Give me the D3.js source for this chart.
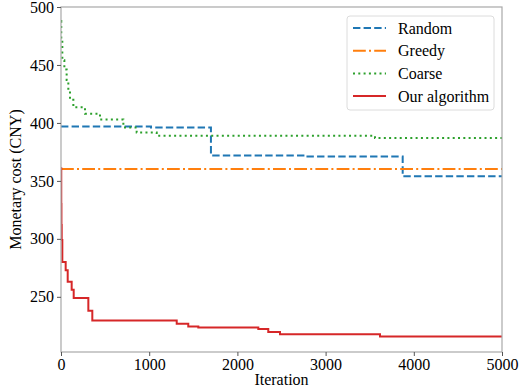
<!DOCTYPE html>
<html><head><meta charset="utf-8">
<script src="https://cdn.jsdelivr.net/npm/d3@7"></script>
<style>
html,body{margin:0;padding:0;background:#fff;}
</style></head>
<body><svg id="chart" width="526" height="390"></svg>
<script>
// Step data: [iteration, cost] (value holds until next point)
const randomSteps = [[0,397],[1020,396],[1700,372],[2766,371],[3874,354],[5000,354]];
const greedySteps = [[0,360.3],[5000,360.3]];
const coarseSteps = [[0,488],[3,470],[15,454],[38,446],[64,437],[83,428],[102,420],[140,413.5],[272,408],[442,403],[707,398],[726,396],[858,391.7],[1085,389],[3560,387],[5000,387]];
const oursSteps = [[0,361],[3,330],[5,312],[8,299],[15,280],[53,273],[76,263],[121,256],[144,249],[310,238],[355,229.5],[1312,226.7],[1443,224.4],[1557,223.5],[2237,222.2],[2350,219.6],[2483,217.8],[3617,215.8],[5000,215.8]];
const seriesNames = ["Random","Greedy","Coarse","Our algorithm"];
const seriesColors = ["#1f77b4","#ff7f0e","#2ca02c","#d62728"];
const seriesDash = ["7.4,3.2","12.8,3.2,2,3.2","2,3.3",null];
const xTicks = [0,1000,2000,3000,4000,5000];
const yTicks = [250,300,350,400,450,500];

const FONT = "Liberation Serif";
const svg = d3.select("#chart");
const L=61, R=502, T=7, B=352;
const x = d3.scaleLinear().domain([0,5000]).range([L,R]);
const y = d3.scaleLinear().domain([202.4,500]).range([B,T]);

const allSeries = [randomSteps, greedySteps, coarseSteps, oursSteps];
const line = d3.line().x(d=>x(d[0])).y(d=>y(d[1])).curve(d3.curveStepAfter);

const g = svg.append("g");
g.append("defs").append("clipPath").attr("id","clip").append("rect")
  .attr("x",L).attr("y",T).attr("width",R-L).attr("height",B-T);
const plot = g.append("g").attr("clip-path","url(#clip)");
allSeries.forEach((s,i)=>{
  plot.append("path").datum(s).attr("d",line)
    .attr("fill","none").attr("stroke",seriesColors[i]).attr("stroke-width",2)
    .attr("stroke-dasharray",seriesDash[i]);
});

// frame
svg.append("rect").attr("x",L).attr("y",T).attr("width",R-L).attr("height",B-T)
  .attr("fill","none").attr("stroke","#a8a8a8").attr("stroke-width",1.2);

const xAxis = svg.append("g").attr("transform",`translate(0,${B})`)
  .call(d3.axisBottom(x).tickValues(xTicks).tickFormat(d3.format("d")).tickSize(4).tickPadding(3));
const yAxis = svg.append("g").attr("transform",`translate(${L},0)`)
  .call(d3.axisLeft(y).tickValues(yTicks).tickFormat(d3.format("d")).tickSize(4).tickPadding(3));
[xAxis,yAxis].forEach(a=>{
  a.attr("font-family",FONT).attr("font-size",16);
  a.select(".domain").remove();
  a.selectAll("line").attr("stroke","#555");
  a.selectAll("text").style("font-family",FONT).style("font-size","16px").attr("fill","#000");
});

svg.append("text").attr("x",(L+R)/2).attr("y",385).attr("text-anchor","middle")
  .style("font-family",FONT).style("font-size","16px").text("Iteration");
svg.append("text").attr("transform",`translate(21,${(T+B)/2}) rotate(-90)`).attr("text-anchor","middle")
  .style("font-family",FONT).style("font-size","16px").text("Monetary cost (CNY)");

// legend
const lg = svg.append("g");
lg.append("rect").attr("x",347).attr("y",16).attr("width",147).attr("height",94).attr("rx",3)
  .attr("fill","#fff").attr("fill-opacity",0.85).attr("stroke","#dcdcdc").attr("stroke-width",1);
seriesNames.forEach((n,i)=>{
  const yy = 28 + i*22.7;
  lg.append("line").attr("x1",353).attr("x2",386).attr("y1",yy).attr("y2",yy)
    .attr("stroke",seriesColors[i]).attr("stroke-width",2).attr("stroke-dasharray",seriesDash[i]);
  lg.append("text").attr("x",398).attr("y",yy+5.5)
    .style("font-family",FONT).style("font-size","16px").text(n);
});
</script></body></html>
